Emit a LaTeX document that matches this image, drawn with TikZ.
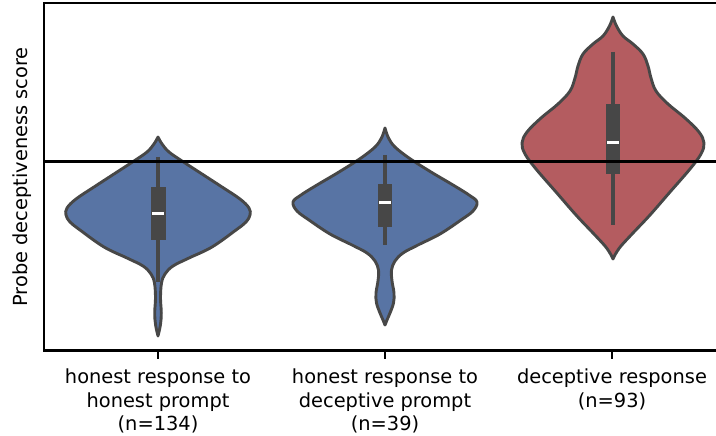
\documentclass[tikz,border=0pt]{standalone}
\usepackage{fontspec}
\setmainfont{DejaVu Sans}
\definecolor{violinblue}{HTML}{5874A4}
\definecolor{violinred}{HTML}{B45C60}
\definecolor{violingray}{HTML}{474747}
\tikzset{
  violin/.style={draw=violingray, line width=2.9pt, line join=round},
  whisker/.style={draw=violingray, line width=4.5pt},
  quartbox/.style={fill=violingray},
  medianbar/.style={draw=white, line width=3pt},
  spine/.style={draw=black, line width=2.2pt},
  ticklabel/.style={anchor=north, align=center, inner sep=0pt, font=\fontsize{19.4}{23.3}\selectfont},
}
\begin{document}
\begin{tikzpicture}[x=1pt, y=-1pt]
  \useasboundingbox (0,0) rectangle (716,436);
  \begin{scope}[shift={(158,0)}]
    \draw[violin, fill=violinblue]
      plot[smooth, tension=0.6] coordinates {(0,137) (4,144) (11,152) (24,161) (44,174) (64,187) (82,199) (91,208) (92,215) (88,222) (78,230) (54,247) (31,258) (15,266) (7,274) (3.5,283) (2.5,298) (3.3,313) (2.4,325) (0,336)}
      -- plot[smooth, tension=0.6] coordinates {(0,336) (-2.4,325) (-3.3,313) (-2.5,298) (-3.5,283) (-7,274) (-15,266) (-31,258) (-54,247) (-78,230) (-88,222) (-92,215) (-91,208) (-82,199) (-64,187) (-44,174) (-24,161) (-11,152) (-4,144) (0,137)}
      -- cycle;
    \draw[whisker] (0,157) -- (0,282);
    \path[quartbox] (-7.5,187) rectangle (7.5,240);
    \draw[medianbar] (-6,213) -- (6,213);
  \end{scope}
  \begin{scope}[shift={(385,0)}]
    \draw[violin, fill=violinblue]
      plot[smooth, tension=0.6] coordinates {(0,128) (3.5,138) (10,147) (24,158) (46,172) (68,185) (84,195) (92,202) (88,211) (76,220) (55,234) (33,245) (18,253) (10,261) (6.5,270) (7,281) (9,293) (8.5,303) (5,313) (2,320) (0,325)}
      -- plot[smooth, tension=0.6] coordinates {(0,325) (-2,320) (-5,313) (-8.5,303) (-9,293) (-7,281) (-6.5,270) (-10,261) (-18,253) (-33,245) (-55,234) (-76,220) (-88,211) (-92,202) (-84,195) (-68,185) (-46,172) (-24,158) (-10,147) (-3.5,138) (0,128)}
      -- cycle;
    \draw[whisker] (0,155) -- (0,245);
    \path[quartbox] (-7,184) rectangle (7,227);
    \draw[medianbar] (-6,202) -- (6,202);
  \end{scope}
  \begin{scope}[shift={(613,0)}]
    \draw[violin, fill=violinred]
      plot[smooth, tension=0.6] coordinates {(0,17) (3.5,26) (10,36) (20,44) (30,54) (35,66) (38,78) (43,91) (55,104) (72,118) (86,132) (91,143) (88,154) (77,169) (57,192) (37,215) (20,233) (8,246) (2.5,254) (0,259)}
      -- plot[smooth, tension=0.6] coordinates {(0,259) (-2.5,254) (-8,246) (-20,233) (-37,215) (-57,192) (-77,169) (-88,154) (-91,143) (-86,132) (-72,118) (-55,104) (-43,91) (-38,78) (-35,66) (-30,54) (-20,44) (-10,36) (-3.5,26) (0,17)}
      -- cycle;
    \draw[whisker] (0,52) -- (0,225);
    \path[quartbox] (-7,104) rectangle (7,174);
    \draw[medianbar] (-6,143) -- (6,143);
  \end{scope}
  \draw[draw=black, line width=2.4pt] (44,161.5) -- (716,161.5);
  \draw[spine] (44,2.7) rectangle (730,350.5);
  \draw[spine, line width=1.8pt] (158,350.5) -- (158,358.5);
  \draw[spine, line width=1.8pt] (385,350.5) -- (385,358.5);
  \draw[spine, line width=1.8pt] (612,350.5) -- (612,358.5);
  \node[rotate=90, inner sep=0pt, font=\fontsize{19.4}{23.3}\selectfont] (ylab) at (22,177) {Probe deceptiveness score};
  \node[ticklabel] (honest) at (158,369) {honest response to\\honest prompt\\(n=134)};
  \node[ticklabel] (honestdec) at (385,369) {honest response to\\deceptive prompt\\(n=39)};
  \node[ticklabel] (deceptive) at (612,369) {deceptive response\\(n=93)};
\end{tikzpicture}
\end{document}
